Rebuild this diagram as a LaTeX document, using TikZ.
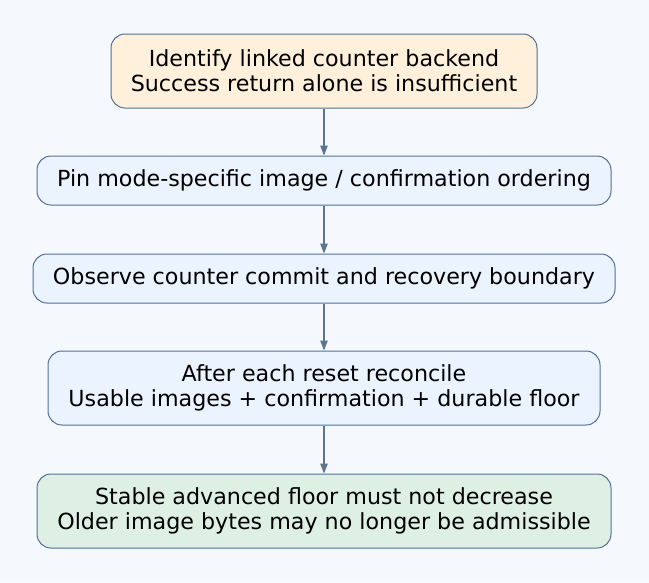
\documentclass[tikz,border=0pt]{standalone}
\usepackage{fontspec}
\setmainfont{DejaVu Sans}
\usetikzlibrary{arrows.meta}
\definecolor{bgcol}{HTML}{F5F9FD}
\definecolor{bordercol}{HTML}{4F7199}
\definecolor{arrowcol}{HTML}{5B7590}
\definecolor{creamfill}{HTML}{FFF0DB}
\definecolor{bluefill}{HTML}{EAF3FE}
\definecolor{greenfill}{HTML}{DEF0E4}
\begin{document}
\begin{tikzpicture}[x=1pt,y=-1pt,
  box/.style={draw=bordercol, line width=1pt, rounded corners=14pt, align=center,
    font=\fontsize{22.2}{25}\selectfont, inner sep=0pt, text=black},
  conn/.style={draw=arrowcol, line width=1.2pt, -{Triangle[length=10pt,width=7.5pt]}}]
\fill[bgcol] (0,0) rectangle (649,582);
\useasboundingbox (0,0) rectangle (649,582);
\node[box, fill=creamfill, minimum width=426pt, minimum height=74pt] (a) at (324,71)
  {Identify linked counter backend\\Success return alone is insufficient};
\node[box, fill=bluefill, minimum width=574pt, minimum height=49pt] (b) at (324,180.5)
  {Pin mode-specific image / confirmation ordering};
\node[box, fill=bluefill, minimum width=582pt, minimum height=49pt] (c) at (324,278.5)
  {Observe counter commit and recovery boundary};
\node[box, fill=bluefill, minimum width=552pt, minimum height=74pt] (d) at (324,388)
  {After each reset reconcile\\Usable images + confirmation + durable floor};
\node[box, fill=greenfill, minimum width=574pt, minimum height=74pt] (e) at (324,511)
  {Stable advanced floor must not decrease\\Older image bytes may no longer be admissible};
\draw[conn] (a.south) -- (b.north);
\draw[conn] (b.south) -- (c.north);
\draw[conn] (c.south) -- (d.north);
\draw[conn] (d.south) -- (e.north);
\end{tikzpicture}
\end{document}
